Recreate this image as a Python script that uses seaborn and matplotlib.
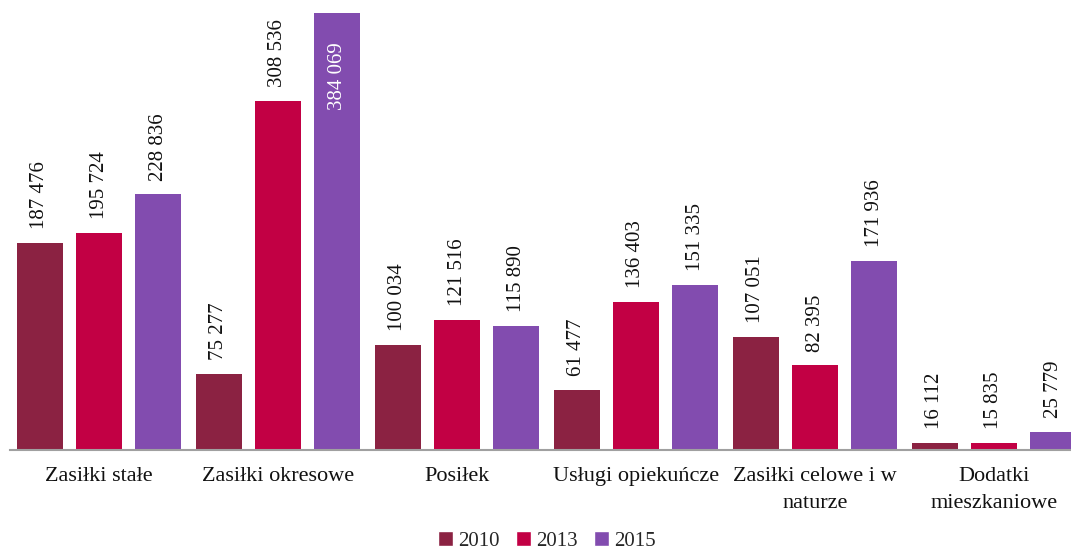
import matplotlib
matplotlib.use('Agg')
import matplotlib.pyplot as plt
from matplotlib.patches import Patch
import pandas as pd
import seaborn as sns

categories = ['Zasiłki stałe', 'Zasiłki okresowe', 'Posiłek', 'Usługi opiekuńcze',
              'Zasiłki celowe i w\nnaturze', 'Dodatki\nmieszkaniowe']
years = ['2010', '2013', '2015']
vals_2010 = [187476, 75277, 100034, 61477, 107051, 16112]
vals_2013 = [195724, 308536, 121516, 136403, 82395, 15835]
vals_2015 = [228836, 384069, 115890, 151335, 171936, 25779]
colors = ['#8B2242', '#C20044', '#824CAF']

df = pd.DataFrame({
    'kategoria': categories * 3,
    'rok': [y for y in years for _ in categories],
    'wartosc': vals_2010 + vals_2013 + vals_2015,
})

sns.set_style('white')
plt.rcParams['font.family'] = ['Liberation Serif', 'DejaVu Serif']

fig = plt.figure(figsize=(10.71, 5.5), dpi=100)
ax = fig.add_axes([9.5 / 1071, 100 / 550, 1074 / 1071, 450 / 550])

sns.barplot(data=df, x='kategoria', y='wartosc', hue='rok', order=categories,
            hue_order=years, palette=colors, width=0.99, gap=0.22,
            linewidth=0, saturation=1, legend=False, ax=ax)

ax.set_xlim(-0.5, 5.5)
ax.set_ylim(10000, 395300)  # axis starts at 10 000, as in the original

fmt = lambda v: f'{v:,.0f}'.replace(',', ' ')
top_val = max(vals_2015)
for cont in ax.containers:
    labs = []
    for bar in cont:
        v = bar.get_y() + bar.get_height()
        if v == top_val:
            labs.append('')
            ax.annotate(fmt(v), (bar.get_x() + bar.get_width() / 2, v),
                        xytext=(0, -21), textcoords='offset points',
                        rotation=90, ha='center', va='top', color='white', fontsize=15)
        else:
            labs.append(fmt(v))
    ax.bar_label(cont, labels=labs, rotation=90, padding=10, fontsize=15, color='#111111')

for s in ['top', 'right', 'left']:
    ax.spines[s].set_visible(False)
ax.spines['bottom'].set_color('#A0A0A0')
ax.spines['bottom'].set_linewidth(1.5)
ax.set_yticks([])
ax.set_xlabel('')
ax.set_ylabel('')
ax.tick_params(axis='x', length=0, pad=12, labelsize=16, labelcolor='#111111')
for t in ax.get_xticklabels():
    t.set_linespacing(1.6)
    t.set_verticalalignment('top')

handles = [Patch(facecolor=c, label=y) for c, y in zip(colors, years)]
fig.legend(handles=handles, loc='center', bbox_to_anchor=(547 / 1071, 9 / 550), ncol=3,
           frameon=False, fontsize=15, handlelength=0.7, handleheight=0.7,
           handletextpad=0.25, columnspacing=0.8, borderaxespad=0)

fig.savefig('out.png', dpi=100)
